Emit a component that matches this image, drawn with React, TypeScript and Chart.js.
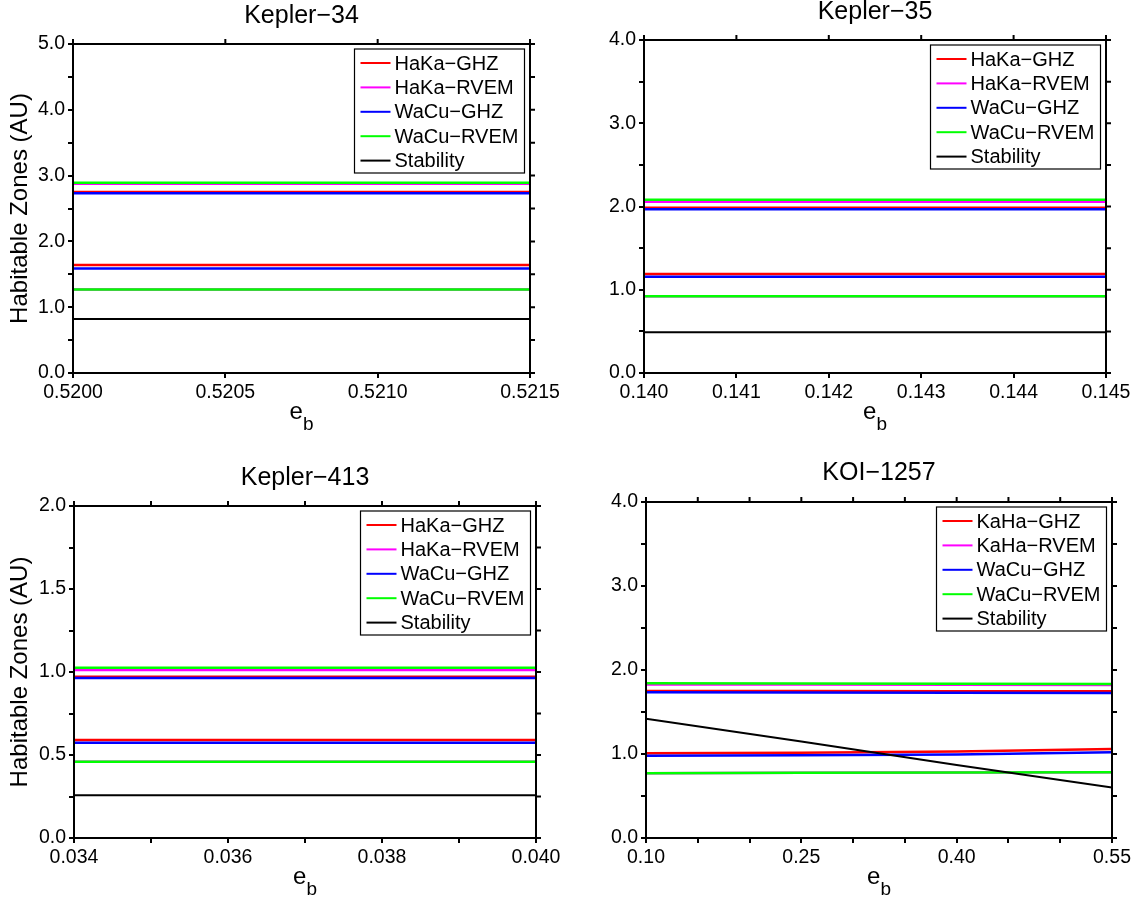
import React, { useEffect, useRef } from "react";
import { Chart, registerables } from "chart.js";

Chart.register(...registerables);

const FONT = "'Liberation Sans', Arial, Helvetica, sans-serif";

// ---------- legend names & colours ----------
const keplerSeriesNames = ["HaKa\u2212GHZ", "HaKa\u2212RVEM", "WaCu\u2212GHZ", "WaCu\u2212RVEM", "Stability"];
const koiSeriesNames = ["KaHa\u2212GHZ", "KaHa\u2212RVEM", "WaCu\u2212GHZ", "WaCu\u2212RVEM", "Stability"];
const seriesColors = ["#ff0000", "#ff00ff", "#0000ff", "#00ff00", "#000000"];
const yAxisTitle = "Habitable Zones (AU)";
const xAxisMain = "e";
const xAxisSub = "b";

// ---------- Kepler-34 ----------
const k34Eb = [0.52, 0.5215];
const k34Inner = [[1.64, 1.64], [1.27, 1.27], [1.59, 1.59], [1.27, 1.27]];
const k34Outer = [[2.75, 2.75], [2.875, 2.875], [2.73, 2.73], [2.89, 2.89]];
const k34Stability = [0.82, 0.82];
const k34XTicks = ["0.5200", "0.5205", "0.5210", "0.5215"];
const k34YTicks = ["0.0", "1.0", "2.0", "3.0", "4.0", "5.0"];

// ---------- Kepler-35 ----------
const k35Eb = [0.14, 0.145];
const k35Inner = [[1.19, 1.19], [0.923, 0.923], [1.155, 1.155], [0.923, 0.923]];
const k35Outer = [[1.985, 1.985], [2.058, 2.058], [1.966, 1.966], [2.082, 2.082]];
const k35Stability = [0.49, 0.49];
const k35XTicks = ["0.140", "0.141", "0.142", "0.143", "0.144", "0.145"];
const k35YTicks = ["0.0", "1.0", "2.0", "3.0", "4.0"];

// ---------- Kepler-413 ----------
const k413Eb = [0.034, 0.04];
const k413Inner = [[0.59, 0.59], [0.46, 0.46], [0.574, 0.574], [0.46, 0.46]];
const k413Outer = [[0.972, 0.972], [1.012, 1.012], [0.964, 0.964], [1.026, 1.026]];
const k413Stability = [0.258, 0.258];
const k413XTicks = ["0.034", "0.036", "0.038", "0.040"];
const k413YTicks = ["0.0", "0.5", "1.0", "1.5", "2.0"];

// ---------- KOI-1257 ----------
const koiEb = [0.1, 0.25, 0.4, 0.55];
const koiInner = [
  [1.01, 1.015, 1.03, 1.06],
  [0.772, 0.776, 0.78, 0.784],
  [0.98, 0.985, 0.995, 1.02],
  [0.772, 0.776, 0.78, 0.784],
];
const koiOuter = [
  [1.75, 1.75, 1.748, 1.747],
  [1.828, 1.826, 1.824, 1.822],
  [1.735, 1.733, 1.73, 1.727],
  [1.842, 1.84, 1.837, 1.834],
];
const koiStability = [1.42, 1.15, 0.87, 0.6];
const koiXTicks = ["0.10", "0.25", "0.40", "0.55"];
const koiYTicks = ["0.0", "1.0", "2.0", "3.0", "4.0"];

// ---------- panel layout (page pixels) ----------
type PanelCfg = {
  title: string;
  names: string[];
  eb: number[];
  inner: number[][];
  outer: number[][];
  stab: number[];
  xTicks: string[];
  yTicks: string[];
  xStep: number;
  yStep: number;
  box: { x: number; y: number; w: number; h: number };
  area: { l: number; t: number; r: number; b: number };
  titleY: number;
  yTitleX: number;
};

const panels: PanelCfg[] = [
  {
    title: "Kepler\u221234", names: keplerSeriesNames, eb: k34Eb, inner: k34Inner, outer: k34Outer,
    stab: k34Stability, xTicks: k34XTicks, yTicks: k34YTicks, xStep: 0.0005, yStep: 0.5,
    box: { x: 0, y: 0, w: 570, h: 454 }, area: { l: 73, t: 44, r: 530, b: 373 }, titleY: 16.5, yTitleX: 20.5,
  },
  {
    title: "Kepler\u221235", names: keplerSeriesNames, eb: k35Eb, inner: k35Inner, outer: k35Outer,
    stab: k35Stability, xTicks: k35XTicks, yTicks: k35YTicks, xStep: 0.001, yStep: 0.5,
    box: { x: 570, y: 0, w: 571, h: 454 }, area: { l: 644, t: 40, r: 1106, b: 373 }, titleY: 12.5, yTitleX: 23.5,
  },
  {
    title: "Kepler\u2212413", names: keplerSeriesNames, eb: k413Eb, inner: k413Inner, outer: k413Outer,
    stab: k413Stability, xTicks: k413XTicks, yTicks: k413YTicks, xStep: 0.001, yStep: 0.25,
    box: { x: 0, y: 454, w: 570, h: 454 }, area: { l: 74, t: 506, r: 536, b: 838 }, titleY: 478, yTitleX: 20,
  },
  {
    title: "KOI\u22121257", names: koiSeriesNames, eb: koiEb, inner: koiInner, outer: koiOuter,
    stab: koiStability, xTicks: koiXTicks, yTicks: koiYTicks, xStep: 0.05, yStep: 0.5,
    box: { x: 570, y: 454, w: 571, h: 454 }, area: { l: 646, t: 502, r: 1112, b: 838 }, titleY: 473.5, yTitleX: 23,
  },
];

const TITLE_SIZE = 25;
const YTITLE_SIZE = 24;
const TICK_SIZE = 19.5;
const LEGEND_SIZE = 20;

const labelFor = (labels: string[], step: number) => (v: number) => {
  const hit = labels.find((l) => Math.abs(parseFloat(l) - v) < step / 100);
  return hit ?? "";
};

const framePlugin = {
  id: "frameTicks",
  afterDatasetsDraw(chart: any) {
    const { ctx, chartArea: a, scales } = chart;
    ctx.save();
    ctx.strokeStyle = "#000";
    ctx.lineWidth = 2;
    ctx.strokeRect(a.left, a.top, a.right - a.left, a.bottom - a.top);
    ctx.beginPath();
    scales.x.ticks.forEach((t: any) => {
      const x = scales.x.getPixelForValue(t.value);
      ctx.moveTo(x, a.top);
      ctx.lineTo(x, a.top - 5);
    });
    scales.y.ticks.forEach((t: any) => {
      const y = scales.y.getPixelForValue(t.value);
      ctx.moveTo(a.right, y);
      ctx.lineTo(a.right + 5, y);
    });
    ctx.stroke();
    ctx.restore();
  },
};

const makeLegendPlugin = (names: string[]) => ({
  id: "boxLegend",
  afterDraw(chart: any) {
    const { ctx, chartArea: a } = chart;
    const w = 170;
    const h = 124;
    const left = a.right - 5.5 - w;
    const top = a.top + 5;
    ctx.save();
    ctx.fillStyle = "#fff";
    ctx.fillRect(left, top, w, h);
    ctx.strokeStyle = "#000";
    ctx.lineWidth = 1.2;
    ctx.strokeRect(left, top, w, h);
    ctx.font = `${LEGEND_SIZE}px ${FONT}`;
    ctx.textBaseline = "middle";
    ctx.textAlign = "left";
    names.forEach((n, i) => {
      const y = top + 14 + i * 24.4;
      ctx.strokeStyle = seriesColors[i];
      ctx.lineWidth = 2;
      ctx.beginPath();
      ctx.moveTo(left + 6, y);
      ctx.lineTo(left + 36, y);
      ctx.stroke();
      ctx.fillStyle = "#000";
      ctx.fillText(n, left + 40, y + 1);
    });
    ctx.restore();
  },
});

const makeTitlePlugin = (p: PanelCfg) => ({
  id: "panelTitles",
  afterDraw(chart: any) {
    const { ctx, chartArea: a } = chart;
    ctx.save();
    ctx.fillStyle = "#000";
    ctx.textAlign = "center";
    ctx.textBaseline = "middle";
    ctx.font = `${TITLE_SIZE}px ${FONT}`;
    ctx.fillText(p.title, (a.left + a.right) / 2, p.titleY - p.box.y);
    ctx.textAlign = "left";
    ctx.textBaseline = "alphabetic";
    ctx.font = `24px ${FONT}`;
    const we = ctx.measureText(xAxisMain).width;
    ctx.font = `19px ${FONT}`;
    const wb = ctx.measureText(xAxisSub).width;
    const x0 = (a.left + a.right) / 2 - (we + wb) / 2;
    ctx.font = `24px ${FONT}`;
    ctx.fillText(xAxisMain, x0, a.bottom + 46);
    ctx.font = `19px ${FONT}`;
    ctx.fillText(xAxisSub, x0 + we, a.bottom + 57);
    ctx.restore();
  },
});

function buildConfig(p: PanelCfg): any {
  const datasets: any[] = [];
  for (let s = 0; s < 4; s++) {
    [p.inner[s], p.outer[s]].forEach((edge) => {
      datasets.push({
        data: p.eb.map((x, i) => ({ x, y: edge[i] })),
        borderColor: seriesColors[s],
        borderWidth: 2.5,
        pointRadius: 0,
        fill: false,
        tension: 0,
      });
    });
  }
  datasets.push({
    data: p.eb.map((x, i) => ({ x, y: p.stab[i] })),
    borderColor: seriesColors[4],
    borderWidth: 2,
    pointRadius: 0,
    fill: false,
    tension: 0,
  });
  // Chart.js paints dataset 0 on top; reverse so later series (green, black) sit above earlier ones
  datasets.reverse();

  const L = p.area.l - p.box.x;
  const R = p.area.r - p.box.x;
  const T = p.area.t - p.box.y;
  const B = p.area.b - p.box.y;

  const xMin = parseFloat(p.xTicks[0]);
  const xMax = parseFloat(p.xTicks[p.xTicks.length - 1]);
  const yMax = parseFloat(p.yTicks[p.yTicks.length - 1]);

  const axisCommon = {
    type: "linear",
    grid: {
      drawOnChartArea: false,
      drawTicks: true,
      tickLength: 5,
      color: "#000",
      lineWidth: 2,
    },
    border: { display: true, color: "#000", width: 2 },
  };

  return {
    type: "line",
    data: { datasets },
    options: {
      animation: false,
      responsive: false,
      devicePixelRatio: 1,
      events: [],
      layout: { padding: { left: 0, top: T, right: p.box.w - R, bottom: 0 } },
      plugins: {
        legend: { display: false },
        tooltip: { enabled: false },
        title: { display: false },
      },
      scales: {
        x: {
          ...axisCommon,
          position: "bottom",
          min: xMin,
          max: xMax,
          afterFit: (s: any) => {
            s.height = p.box.h - B;
          },
          ticks: {
            stepSize: p.xStep,
            autoSkip: false,
            maxRotation: 0,
            minRotation: 0,
            maxTicksLimit: 100,
            padding: 3,
            color: "#000",
            font: { family: FONT, size: TICK_SIZE },
            callback: labelFor(p.xTicks, p.xStep),
          },
        },
        y: {
          ...axisCommon,
          position: "left",
          min: 0,
          max: yMax,
          afterFit: (s: any) => {
            s.width = L;
          },
          title: {
            display: true,
            text: yAxisTitle,
            color: "#000",
            font: { family: FONT, size: YTITLE_SIZE, lineHeight: 1 },
            padding: { top: p.yTitleX - p.box.x - YTITLE_SIZE / 2, bottom: 0 },
          },
          ticks: {
            stepSize: p.yStep,
            autoSkip: false,
            maxTicksLimit: 100,
            padding: 3,
            color: "#000",
            font: { family: FONT, size: TICK_SIZE },
            callback: labelFor(p.yTicks, p.yStep),
          },
        },
      },
    },
    plugins: [framePlugin, makeLegendPlugin(p.names), makeTitlePlugin(p)],
  };
}

function Panel({ p }: { p: PanelCfg }) {
  const ref = useRef<HTMLCanvasElement>(null);
  useEffect(() => {
    if (!ref.current) return;
    const chart = new Chart(ref.current, buildConfig(p));
    return () => chart.destroy();
  }, [p]);
  return (
    <canvas
      ref={ref}
      width={p.box.w}
      height={p.box.h}
      style={{ position: "absolute", left: p.box.x, top: p.box.y, width: p.box.w, height: p.box.h }}
    />
  );
}

export default function App() {
  return (
    <div style={{ position: "absolute", left: 0, top: 0, width: 1141, height: 908, background: "#fff" }}>
      {panels.map((p) => (
        <Panel key={p.title} p={p} />
      ))}
    </div>
  );
}
